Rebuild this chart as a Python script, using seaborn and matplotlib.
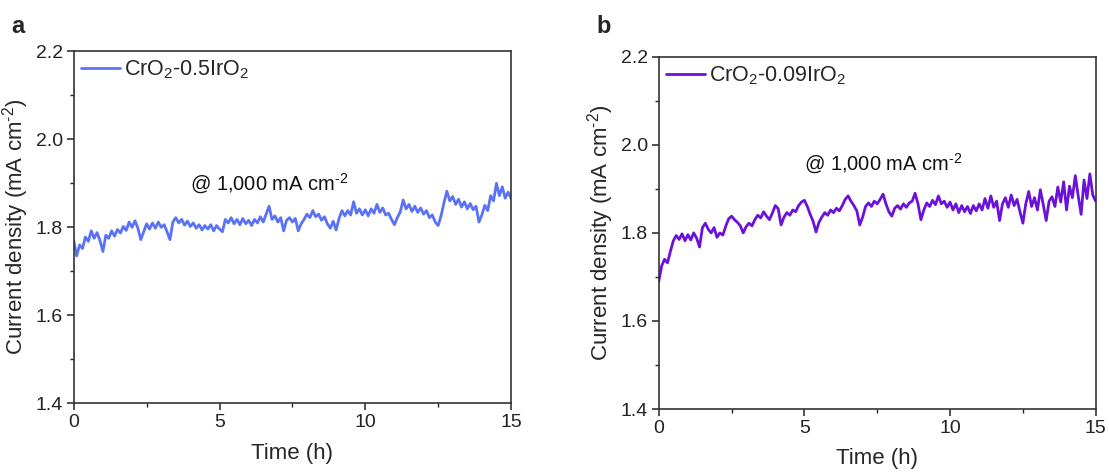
import numpy as np
import pandas as pd
import matplotlib
matplotlib.use("Agg")
import matplotlib.pyplot as plt
from matplotlib.ticker import MultipleLocator
import seaborn as sns

# ---- data (0.1 h steps) ----
time_h = [round(i * 0.1, 1) for i in range(151)]

cur_a = [
    1.770, 1.735, 1.760, 1.752, 1.778, 1.768, 1.792, 1.775, 1.788, 1.770,
    1.745, 1.782, 1.775, 1.792, 1.780, 1.795, 1.787, 1.802, 1.793, 1.812,
    1.800, 1.815, 1.798, 1.772, 1.790, 1.808, 1.796, 1.810, 1.798, 1.812,
    1.800, 1.806, 1.790, 1.772, 1.812, 1.822, 1.810, 1.818, 1.805, 1.814,
    1.802, 1.810, 1.798, 1.806, 1.794, 1.804, 1.796, 1.806, 1.792, 1.804,
    1.796, 1.790, 1.818, 1.810, 1.822, 1.808, 1.818, 1.806, 1.820, 1.808,
    1.816, 1.804, 1.818, 1.810, 1.824, 1.812, 1.830, 1.848, 1.818, 1.826,
    1.812, 1.822, 1.792, 1.816, 1.822, 1.812, 1.820, 1.792, 1.808, 1.818,
    1.830, 1.822, 1.838, 1.824, 1.830, 1.816, 1.824, 1.808, 1.798, 1.814,
    1.794, 1.820, 1.838, 1.826, 1.838, 1.828, 1.858, 1.832, 1.842, 1.828,
    1.840, 1.826, 1.842, 1.832, 1.852, 1.834, 1.844, 1.828, 1.832, 1.818,
    1.806, 1.822, 1.835, 1.862, 1.842, 1.852, 1.836, 1.848, 1.834, 1.844,
    1.830, 1.838, 1.822, 1.828, 1.812, 1.804, 1.826, 1.856, 1.882, 1.860,
    1.870, 1.852, 1.864, 1.846, 1.858, 1.842, 1.854, 1.840, 1.848, 1.812,
    1.828, 1.850, 1.838, 1.872, 1.860, 1.900, 1.872, 1.892, 1.866, 1.880,
    1.866,
]

cur_b = [
    1.690, 1.725, 1.740, 1.732, 1.758, 1.782, 1.794, 1.785, 1.798, 1.782,
    1.796, 1.784, 1.800, 1.788, 1.768, 1.812, 1.822, 1.808, 1.800, 1.812,
    1.790, 1.800, 1.795, 1.815, 1.832, 1.838, 1.830, 1.824, 1.816, 1.800,
    1.814, 1.822, 1.816, 1.830, 1.840, 1.834, 1.848, 1.838, 1.830, 1.845,
    1.862, 1.855, 1.818, 1.836, 1.846, 1.840, 1.852, 1.848, 1.862, 1.870,
    1.874, 1.860, 1.842, 1.826, 1.802, 1.824, 1.836, 1.846, 1.840, 1.852,
    1.846, 1.856, 1.850, 1.862, 1.876, 1.884, 1.872, 1.862, 1.850, 1.818,
    1.836, 1.860, 1.868, 1.860, 1.872, 1.866, 1.876, 1.888, 1.866, 1.848,
    1.838, 1.856, 1.862, 1.854, 1.866, 1.858, 1.868, 1.872, 1.890, 1.866,
    1.830, 1.852, 1.868, 1.860, 1.874, 1.864, 1.884, 1.866, 1.872, 1.858,
    1.870, 1.852, 1.866, 1.846, 1.862, 1.848, 1.860, 1.844, 1.862, 1.850,
    1.866, 1.852, 1.878, 1.856, 1.884, 1.858, 1.872, 1.828, 1.866, 1.880,
    1.858, 1.886, 1.862, 1.876, 1.848, 1.822, 1.866, 1.894, 1.860, 1.880,
    1.852, 1.898, 1.864, 1.828, 1.872, 1.882, 1.860, 1.904, 1.870, 1.916,
    1.852, 1.906, 1.880, 1.930, 1.884, 1.842, 1.920, 1.878, 1.934, 1.886,
    1.872,
]

labels = ["CrO$_2$-0.5IrO$_2$", "CrO$_2$-0.09IrO$_2$"]
panel_tags = ["a", "b"]
colors = ["#5A72F6", "#6A12D8"]
annotation = "@ 1,000 mA cm$^{\u2010 2}$"
ann_pos = [(4.0, 1.90), (5.0, 1.958)]
xlabel = "Time (h)"
ylabel = "Current density (mA cm$^{\u2010 2}$)"
xlim = (0, 15)
ylim = (1.4, 2.2)
xticks = [0, 5, 10, 15]
yticks = [1.4, 1.6, 1.8, 2.0, 2.2]

sns.set_style("ticks")
plt.rcParams["font.family"] = ["Liberation Sans", "DejaVu Sans"]
plt.rcParams["mathtext.fontset"] = "custom"
plt.rcParams["mathtext.rm"] = "Liberation Sans"
plt.rcParams["mathtext.it"] = "Liberation Sans:italic"
plt.rcParams["mathtext.default"] = "regular"

fig = plt.figure(figsize=(11.09, 4.73), dpi=100)
axes_rects = [
    [0.0665, 0.1473, 0.3943, 0.7442],
    [0.5940, 0.1353, 0.3940, 0.7447],
]
tag_pos = [(0.010, 0.945), (0.538, 0.945)]

for i, ys in enumerate([cur_a, cur_b]):
    ax = fig.add_axes(axes_rects[i])
    df = pd.DataFrame({"t": time_h, "j": ys})
    sns.lineplot(data=df, x="t", y="j", ax=ax, color=colors[i], lw=2.0,
                 label=labels[i])
    ax.set_xlim(*xlim)
    ax.set_ylim(*ylim)
    ax.set_xticks(xticks)
    ax.set_yticks(yticks)
    ax.set_yticklabels([f"{v:.1f}" for v in yticks])
    ax.xaxis.set_minor_locator(MultipleLocator(2.5))
    ax.yaxis.set_minor_locator(MultipleLocator(0.1))
    ax.tick_params(which="major", direction="out", length=5, width=1.1,
                   labelsize=14, colors="#222222", pad=3)
    ax.tick_params(which="minor", direction="out", length=3, width=1.0,
                   colors="#222222")
    ax.tick_params(top=False, right=False, which="both")
    for sp in ax.spines.values():
        sp.set_visible(True)
        sp.set_linewidth(1.2)
        sp.set_color("#333333")
    ax.set_xlabel(xlabel, fontsize=16, labelpad=8)
    ax.set_ylabel(ylabel, fontsize=16, labelpad=3)
    leg = ax.legend(loc="upper left", frameon=False, fontsize=15.5,
                    handlelength=1.8, handletextpad=0.2,
                    borderaxespad=0.15, borderpad=0.2)
    for h in leg.legend_handles:
        h.set_linewidth(2.0)
    ax.text(ann_pos[i][0], ann_pos[i][1], annotation, fontsize=14.5,
            va="center", ha="left", color="#111111")
    fig.text(tag_pos[i][0], tag_pos[i][1], panel_tags[i], fontsize=17,
             fontweight="bold", va="center", ha="left")

fig.savefig("out.png", dpi=100)
